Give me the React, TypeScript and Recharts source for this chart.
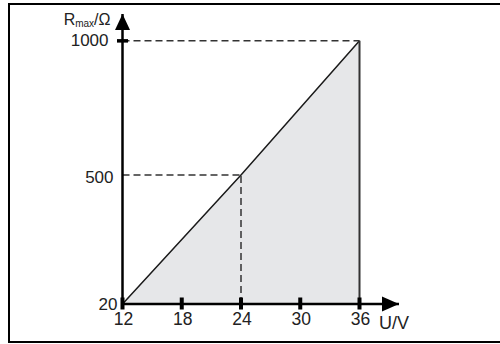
import { ComposedChart, Area, XAxis, YAxis, ReferenceLine, ReferenceDot } from "recharts";

const voltage = [12, 24, 36];
const resistance = [20, 500, 1000];
const xTicks = [12, 18, 24, 30, 36];
const yTicks = [20, 500, 1000];

const data = voltage.map((u, i) => ({ u, r: resistance[i] }));
const font = "'Liberation Sans', Arial, sans-serif";
const dash = { stroke: "#333", strokeWidth: 1.5, strokeDasharray: "7 4" };

const XTick = ({ x, y, payload }: any) => (
  <g>
    <rect x={x - 2} y={y - 6.5} width={4} height={12} fill="#000" />
    <text x={x + 1} y={y + 21} textAnchor="middle" fontSize={17.5} fontFamily={font} fill="#222">
      {payload.value}
    </text>
  </g>
);

// 1000 sits left of its tick bar, the rest hug the axis
const YTick = ({ x, y, payload }: any) => {
  const v = payload.value;
  const dx = v === 1000 ? -14 : v === 500 ? -9 : -5;
  const dy = v === 1000 ? 5 : v === 500 ? 8 : 6;
  return (
    <g>
      {v === 1000 && <rect x={x - 5.5} y={y - 1.75} width={11} height={3.5} fill="#000" />}
      <text x={x + dx} y={y + dy} textAnchor="end" fontSize={17} fontFamily={font} fill="#222">
        {v}
      </text>
    </g>
  );
};

const YName = ({ viewBox }: any) => (
  <text x={viewBox.x + viewBox.width - 12} y={viewBox.y + 11} textAnchor="end" fontSize={16} fontFamily={font} fill="#222">
    R<tspan fontSize={10} dy={2}>max</tspan>
    <tspan dy={-2}>/Ω</tspan>
  </text>
);

const XName = ({ viewBox }: any) => (
  <text x={viewBox.x + viewBox.width - 20} y={viewBox.y + 25} fontSize={18} fontFamily={font} fill="#222">
    U/V
  </text>
);

const ArrowRight = ({ cx, cy }: any) => <path d={`M${cx},${cy} L${cx - 17},${cy - 7.5} L${cx - 17},${cy + 7.5} Z`} fill="#000" />;
const ArrowUp = ({ cx, cy }: any) => <path d={`M${cx},${cy} L${cx - 7.5},${cy + 16} L${cx + 7.5},${cy + 16} Z`} fill="#000" />;

export default function App() {
  return (
    <div style={{ position: "fixed", left: 0, top: 0, width: 500, height: 344, background: "#fff", overflow: "hidden" }}>
      <div
        style={{
          position: "absolute",
          left: 8,
          top: 3,
          width: 520,
          height: 340,
          border: "2px solid #000",
          boxSizing: "border-box",
        }}
      />
      <div style={{ position: "absolute", left: 0, top: 0 }}>
        <ComposedChart width={500} height={344} data={data} margin={{ top: 14, right: 101, bottom: 0, left: 0.5 }}>
          <XAxis
            type="number"
            dataKey="u"
            domain={[12, 40]}
            ticks={xTicks}
            interval={0}
            height={40}
            tickSize={0}
            tickMargin={0}
            tickLine={false}
            axisLine={{ stroke: "#000", strokeWidth: 2.5 }}
            tick={<XTick />}
            label={<XName />}
          />
          <YAxis
            type="number"
            domain={[20, 1100]}
            ticks={yTicks}
            interval={0}
            width={122}
            tickSize={0}
            tickMargin={0}
            tickLine={false}
            axisLine={{ stroke: "#000", strokeWidth: 2.5 }}
            tick={<YTick />}
            label={<YName />}
          />
          <Area
            type="linear"
            dataKey="r"
            fill="#e6e7e9"
            fillOpacity={1}
            stroke="#1a1a1a"
            strokeWidth={1.5}
            isAnimationActive={false}
          />
          <ReferenceLine segment={[{ x: 12, y: 1000 }, { x: 36, y: 1000 }]} {...dash} />
          <ReferenceLine segment={[{ x: 12, y: 500 }, { x: 24, y: 500 }]} {...dash} />
          <ReferenceLine segment={[{ x: 24, y: 20 }, { x: 24, y: 500 }]} {...dash} />
          <ReferenceLine segment={[{ x: 36, y: 20 }, { x: 36, y: 1000 }]} stroke="#333" strokeWidth={2} />
          <ReferenceDot x={40} y={20} ifOverflow="visible" shape={<ArrowRight />} />
          <ReferenceDot x={12} y={1100} ifOverflow="visible" shape={<ArrowUp />} />
        </ComposedChart>
      </div>
    </div>
  );
}
